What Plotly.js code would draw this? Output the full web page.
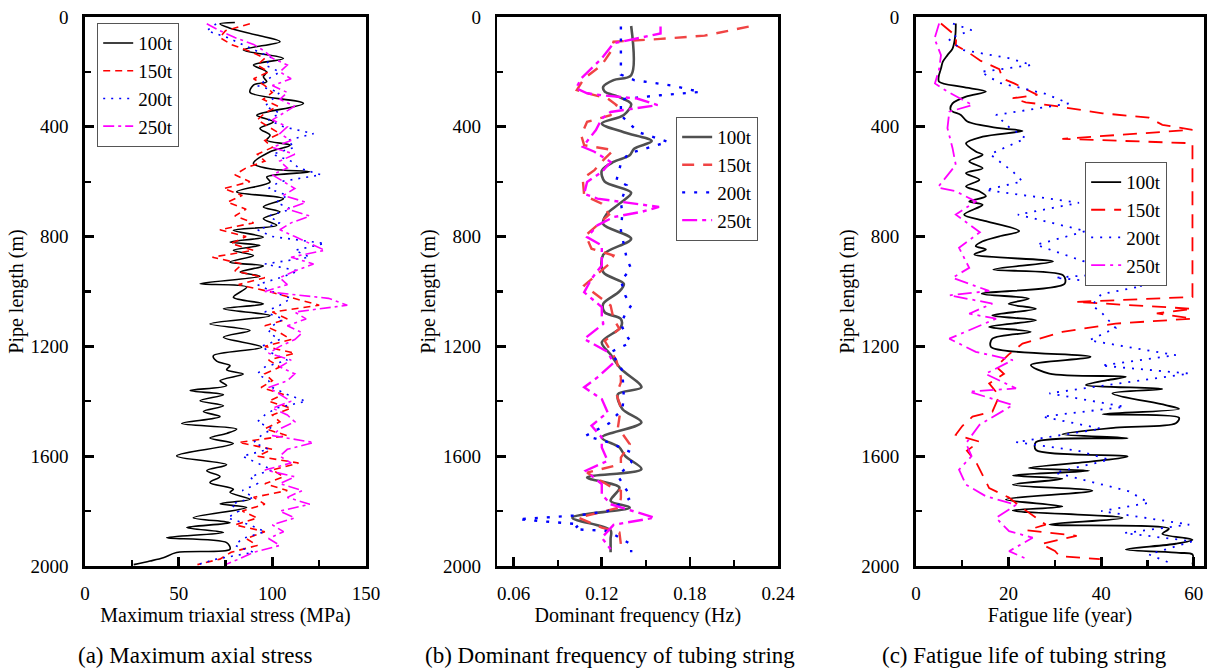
<!DOCTYPE html>
<html>
<head>
<meta charset="utf-8">
<script src="https://cdn.plot.ly/plotly-3.0.1.min.js"></script>
<style>html,body{margin:0;padding:0;background:#fff;}#chart{width:1214px;height:668px;}</style>
</head>
<body>
<div id="chart"></div>
<script>
// ---------- Panel (a): Maximum triaxial stress (MPa) vs pipe length (m) ----------
const depthA100 = [20,25,40,66,90,120,151,175,200,218,236,248,275,315,358,382,406,431,449,467,491,534,555,564,583,601,637,662,692,710,735,759,777,802,820,832,850,869,893,907,929,944,972,984,1021,1045,1063,1088,1118,1142,1167,1203,1234,1254,1270,1285,1301,1325,1343,1361,1376,1398,1416,1437,1456,1481,1501,1517,1534,1554,1599,1631,1653,1674,1696,1720,1732,1757,1773,1787,1824,1842,1860,1878,1897,1915,1939,1951,1970,1982,1995];
const stressA100 = [80,72,77,91.6,104.1,84.5,105.9,89.9,97,95.2,97,89.9,88.1,116.6,91.7,100.6,93.4,98.8,97,109.5,98.8,89.9,100.6,120.1,97,98.8,81,105.9,95.2,104.1,95.2,102.3,79.2,95.2,77.4,93.4,79.2,89.9,77.4,95.2,82.8,93.4,61.4,86.3,79.2,95.2,73.9,98.8,66.7,88.1,73.9,94.3,68.5,70.3,77.4,75.6,84.5,72.1,75.6,56.1,73.9,61.4,73.9,63.2,72.1,51.6,81,75.6,66.7,79.2,48.9,75.6,65,72.1,66.7,79.2,77.4,88.1,72.1,86.3,57.8,77.4,54.3,73.9,43.6,75.6,77.4,48.9,41.8,34.7,26];
const depthA = [25,50,75,100,125,150,175,200,225,250,275,300,325,350,375,400,425,450,475,500,525,550,575,600,625,650,675,700,725,750,775,800,825,850,875,900,925,950,975,1000,1025,1050,1075,1100,1125,1150,1175,1200,1225,1250,1275,1300,1325,1350,1375,1400,1425,1450,1475,1500,1525,1550,1575,1600,1625,1650,1675,1700,1725,1750,1775,1800,1825,1850,1875,1900,1925,1950,1975,1995];
const stressA150 = [88,75,72,78,88,96,92,98,90,96,100,95,103,96,92,98,104,96,100,92,96,86,80,88,74,84,76,86,80,90,72,86,78,90,68,84,80,96,82,98,112,125,100,108,96,104,110,96,112,98,104,96,100,94,106,98,110,100,104,96,108,82,100,92,114,100,106,96,108,90,96,84,92,80,96,86,92,78,72,60];
const stressA200 = [70,65,76,84,92,100,96,104,98,92,104,100,96,104,98,106,122,108,112,100,110,114,126,104,98,108,102,110,98,104,92,100,128,112,120,96,114,104,92,100,110,104,96,106,100,98,104,94,100,108,96,92,98,100,108,118,102,96,92,100,94,90,98,84,92,100,88,92,84,90,78,82,76,88,96,84,80,90,70,60];
const stressA250 = [65,72,80,90,96,100,108,104,110,100,108,104,112,106,100,108,104,110,100,112,104,108,100,106,112,106,118,108,120,110,104,112,120,128,110,122,112,104,108,96,130,140,112,118,108,116,112,104,98,110,104,112,108,98,104,110,100,108,112,104,100,122,108,104,110,96,112,104,116,108,120,104,112,100,106,98,104,90,82,75];

// ---------- Panel (b): Dominant frequency (Hz) ----------
const depthB100 = [33,212,230,254,272,290,317,357,388,420,452,480,504,528,560,600,640,680,720,755,808,866,930,972,1000,1045,1076,1100,1130,1185,1230,1282,1349,1374,1428,1477,1532,1568,1600,1647,1678,1714,1763,1787,1824,1870,1900,1950];
const freqB100 = [0.140,0.140,0.128,0.121,0.122,0.131,0.140,0.135,0.120,0.135,0.154,0.142,0.139,0.128,0.120,0.122,0.140,0.132,0.123,0.121,0.140,0.121,0.121,0.135,0.132,0.121,0.122,0.133,0.133,0.120,0.126,0.133,0.147,0.131,0.134,0.147,0.120,0.132,0.136,0.147,0.110,0.132,0.126,0.139,0.100,0.126,0.126,0.126];
const depthB150 = [35,68,80,90,127,175,224,266,278,297,321,358,382,431,467,485,516,558,589,650,680,720,796,844,869,900,978,1051,1100,1136,1180,1252,1313,1331,1374,1422,1495,1556,1605,1629,1660,1714,1726,1751,1787,1824,1860,1878,1921,1945];
const freqB150 = [0.220,0.190,0.160,0.128,0.126,0.120,0.108,0.103,0.110,0.124,0.130,0.126,0.110,0.106,0.108,0.128,0.122,0.115,0.107,0.108,0.120,0.125,0.109,0.113,0.128,0.125,0.108,0.126,0.128,0.132,0.122,0.130,0.133,0.133,0.130,0.133,0.131,0.139,0.133,0.133,0.110,0.127,0.133,0.133,0.132,0.104,0.120,0.132,0.133,0.133];
const depthB200 = [35,210,230,250,273,285,300,358,420,455,498,534,595,613,674,716,777,881,917,960,1015,1051,1082,1118,1155,1185,1221,1252,1288,1386,1428,1480,1526,1550,1586,1623,1672,1751,1800,1815,1830,1848,1866,1872,1921,1950];
const freqB200 = [0.133,0.133,0.142,0.168,0.187,0.160,0.133,0.133,0.145,0.165,0.138,0.133,0.130,0.137,0.133,0.134,0.133,0.137,0.140,0.133,0.136,0.140,0.136,0.133,0.136,0.140,0.126,0.130,0.134,0.135,0.134,0.125,0.109,0.125,0.140,0.140,0.131,0.140,0.124,0.105,0.063,0.105,0.101,0.124,0.140,0.140];
const depthB250 = [35,60,96,151,224,260,278,285,297,321,346,370,412,473,491,528,565,601,644,662,692,710,729,759,802,832,875,905,954,1003,1057,1088,1118,1173,1220,1260,1313,1349,1392,1440,1489,1532,1568,1617,1653,1702,1739,1775,1824,1850,1897,1939];
const freqB250 = [0.160,0.160,0.128,0.120,0.106,0.1025,0.110,0.120,0.144,0.158,0.126,0.120,0.116,0.107,0.115,0.126,0.120,0.110,0.108,0.117,0.159,0.147,0.128,0.117,0.110,0.120,0.120,0.120,0.113,0.108,0.120,0.120,0.121,0.108,0.124,0.128,0.117,0.108,0.120,0.124,0.113,0.120,0.120,0.124,0.109,0.120,0.120,0.126,0.156,0.128,0.120,0.126];

// ---------- Panel (c): Fatigue life (year) ----------
const depthC100 = [24,67,115,139,163,188,218,236,255,272,290,315,339,357,381,405,415,436,460,490,502,526,551,569,593,617,635,653,672,684,720,744,780,799,817,835,847,865,891,920,941,972,1008,1026,1045,1063,1087,1105,1129,1147,1172,1202,1238,1268,1299,1311,1323,1341,1355,1371,1414,1428,1447,1460,1480,1496,1520,1534,1549,1577,1601,1619,1643,1653,1670,1682,1704,1726,1758,1783,1798,1825,1849,1864,1883,1904,1919,1940,1952,1958,1994];
const lifeC100 = [8.6,8.5,7.9,6.8,5.8,5.4,4.9,5.0,10,15.1,10.8,7.9,7.5,9.7,11.1,18,23,14.4,10.8,12.9,14.4,11.5,14.4,10.8,13.7,10.8,13.7,15.1,11.5,14.4,10.4,15.1,22.3,18,14.4,12.9,15.1,12.6,29.6,16.7,31.8,32.1,14.2,24.4,20,25.9,16.5,25.9,15.8,24.8,16.5,16.2,37.7,24.8,28.8,45.3,41.3,36.7,53.2,42.4,53.9,56.8,40.3,56.8,56.1,43.1,31.6,45.7,25.9,25.9,45.7,38.1,24.4,37.4,20.9,31.6,20.9,38.1,19.4,31.6,20.9,44.6,28.8,54.6,53.2,59.7,56.1,45.3,56.8,59.7,59.7];
const depthC150 = [24,70,103,130,160,190,224,242,284,296,311,323,351,367,393,411,444,460,600,800,1000,1020,1038,1063,1080,1099,1117,1147,1190,1230,1274,1300,1335,1380,1438,1456,1490,1522,1547,1580,1619,1668,1716,1750,1789,1849,1870,1890,1920,1945,1964,1975];
const lifeC150 = [5.4,8.7,8.6,11.4,14,18,18.7,21.2,26.2,20.9,23.7,29.5,40.3,50.3,53.2,59.7,31.6,59.7,59.7,59.7,59.7,59.7,34.5,59.7,52,59.7,43.1,31.6,23,20,17.3,19,15.8,18,16.5,12.2,10,8.6,13.7,11,12.9,14.4,15.8,20,23,28,24,34.7,27,30,31,39.7];
const depthC200 = [24,48,80,120,150,175,200,240,280,315,357,400,442,500,563,599,630,677,720,780,830,889,926,950,980,1010,1050,1081,1133,1178,1232,1270,1299,1340,1371,1420,1456,1500,1549,1580,1613,1660,1728,1770,1800,1849,1880,1910,1958,1990];
const lifeC200 = [8,12,7,10,20,25,14,18,28,33,17.3,20,23.7,16,20.9,23,15,35.2,22,36.7,26,36,48.9,30,48.9,40,38,40.3,43.1,37.4,56.1,40,59,42,28.8,45,27.3,40,21.6,35,41.7,30,46,50.3,40,59,45,59.7,50.3,55];
const depthC250 = [24,79,139,190,242,272,321,345,405,478,539,621,635,672,720,784,841,914,950,998,1014,1044,1081,1099,1172,1220,1250,1300,1353,1365,1414,1486,1553,1600,1649,1704,1746,1777,1825,1873,1897,1946,1975];
const lifeC250 = [5,4,5.4,5,4.1,6.8,12.2,7.2,6.8,7.9,8.6,4.7,8.6,12.9,8.6,13.8,9.3,11.5,7.9,15.8,7.2,16.5,11.5,17.3,7.2,12.9,20.9,15,21.6,11.5,20.9,13.7,10.8,12,9.3,10.8,15.1,21.6,17.3,20.1,25.2,20.1,24];

const seriesNames = ['100t','150t','200t','250t'];

const FONT = '"Liberation Serif", "Times New Roman", Times, serif';

function tr(x, y, name, ax, leg, color, width, dash, shape) {
  return {
    type: 'scatter', mode: 'lines', x: x, y: y, name: name,
    xaxis: 'x' + ax, yaxis: 'y' + ax, legend: leg,
    line: {color: color, width: width, dash: dash, shape: shape || 'linear', smoothing: 0.9},
    hoverinfo: 'skip'
  };
}

const data = [
  tr(stressA100, depthA100, seriesNames[0], '', 'legend', '#000000', 1.6, 'solid', 'spline'),
  tr(stressA150, depthA, seriesNames[1], '', 'legend', '#ff0000', 1.6, '7px,5px'),
  tr(stressA200, depthA, seriesNames[2], '', 'legend', '#0000ff', 1.6, '2px,6px'),
  tr(stressA250, depthA, seriesNames[3], '', 'legend', '#ff00ff', 1.6, '11px,4px,3px,4px'),

  tr(freqB100, depthB100, seriesNames[0], '2', 'legend2', '#505050', 2.6, 'solid', 'spline'),
  tr(freqB150, depthB150, seriesNames[1], '2', 'legend2', '#f04444', 2.4, '12px,9px'),
  tr(freqB200, depthB200, seriesNames[2], '2', 'legend2', '#0000ff', 2.4, '3px,9px'),
  tr(freqB250, depthB250, seriesNames[3], '2', 'legend2', '#ff00ff', 2.4, '15px,5px,4px,5px'),

  tr(lifeC100, depthC100, seriesNames[0], '3', 'legend3', '#000000', 1.8, 'solid', 'spline'),
  tr(lifeC150, depthC150, seriesNames[1], '3', 'legend3', '#ff0000', 1.8, '14px,9px'),
  tr(lifeC200, depthC200, seriesNames[2], '3', 'legend3', '#0000ff', 1.8, '2px,7px'),
  tr(lifeC250, depthC250, seriesNames[3], '3', 'legend3', '#ff00ff', 1.8, '14px,5px,3px,5px')
];

function xax(domain, range, dtick, tick0, mdtick, mtick0, title, fmt, anchor) {
  return {
    domain: domain, range: range, anchor: anchor,
    tick0: tick0, dtick: dtick, tickformat: fmt,
    showline: true, linewidth: 2.8, linecolor: '#000', mirror: true,
    ticks: 'inside', ticklen: 9, tickwidth: 2.8, tickcolor: '#000',
    ticklabelstandoff: 8,
    minor: {ticks: 'inside', ticklen: 6, tickwidth: 2.2, tickcolor: '#000', dtick: mdtick, tick0: mtick0, showgrid: false},
    showgrid: false, zeroline: false, fixedrange: true,
    tickfont: {family: FONT, size: 19, color: '#000'},
    title: {text: title, font: {family: FONT, size: 20, color: '#000'}, standoff: 2}
  };
}
function yax(domain, anchor) {
  return {
    domain: domain, range: [2000, 0], anchor: anchor,
    tick0: 0, dtick: 400,
    showline: true, linewidth: 2.8, linecolor: '#000', mirror: true,
    ticks: 'inside', ticklen: 9, tickwidth: 2.8, tickcolor: '#000',
    ticklabelstandoff: 10,
    minor: {ticks: 'inside', ticklen: 6, tickwidth: 2.2, tickcolor: '#000', dtick: 200, tick0: 0, showgrid: false},
    showgrid: false, zeroline: false, fixedrange: true,
    tickfont: {family: FONT, size: 19, color: '#000'},
    title: {text: 'Pipe length (m)', font: {family: FONT, size: 20, color: '#000'}, standoff: 2}
  };
}
const yDom = [0.1527, 0.9746];
function legendAt(x, y) {
  return {
    x: x, y: y, xanchor: 'left', yanchor: 'top',
    bgcolor: '#ffffff', bordercolor: '#555555', borderwidth: 1.2,
    font: {family: FONT, size: 19, color: '#000'},
    tracegroupgap: 0, itemwidth: 30
  };
}

const layout = {
  width: 1214, height: 668,
  margin: {l: 0, r: 0, t: 0, b: 0},
  paper_bgcolor: '#ffffff', plot_bgcolor: '#ffffff',
  font: {family: FONT, color: '#000'},
  showlegend: true,
  xaxis:  xax([0.0700, 0.3015], [0, 150], 50, 0, 25, 0, 'Maximum triaxial stress (MPa)', '', 'y'),
  yaxis:  yax(yDom, 'x'),
  xaxis2: xax([0.4098, 0.6409], [0.049, 0.24], 0.06, 0.06, 0.03, 0.03, 'Dominant frequency (Hz)', '.2f', 'y2'),
  yaxis2: yax(yDom, 'x2'),
  xaxis3: xax([0.7545, 0.9918], [0, 62.2], 20, 0, 10, 0, 'Fatigue life (year)', '', 'y3'),
  yaxis3: yax(yDom, 'x3'),
  legend:  legendAt(0.0799, 0.9656),
  legend2: legendAt(0.5568, 0.8249),
  legend3: legendAt(0.8937, 0.7575),
  annotations: [
    {text: '(a) Maximum axial stress', x: 195/1214, y: 1 - 655/668, xref: 'paper', yref: 'paper', xanchor: 'center', yanchor: 'middle', showarrow: false, font: {family: FONT, size: 23, color: '#000'}},
    {text: '(b) Dominant frequency of tubing string', x: 610/1214, y: 1 - 655/668, xref: 'paper', yref: 'paper', xanchor: 'center', yanchor: 'middle', showarrow: false, font: {family: FONT, size: 23, color: '#000'}},
    {text: '(c) Fatigue life of tubing string', x: 1024/1214, y: 1 - 655/668, xref: 'paper', yref: 'paper', xanchor: 'center', yanchor: 'middle', showarrow: false, font: {family: FONT, size: 23, color: '#000'}}
  ]
};

Plotly.newPlot('chart', data, layout, {displayModeBar: false, staticPlot: true});
</script>
</body>
</html>
